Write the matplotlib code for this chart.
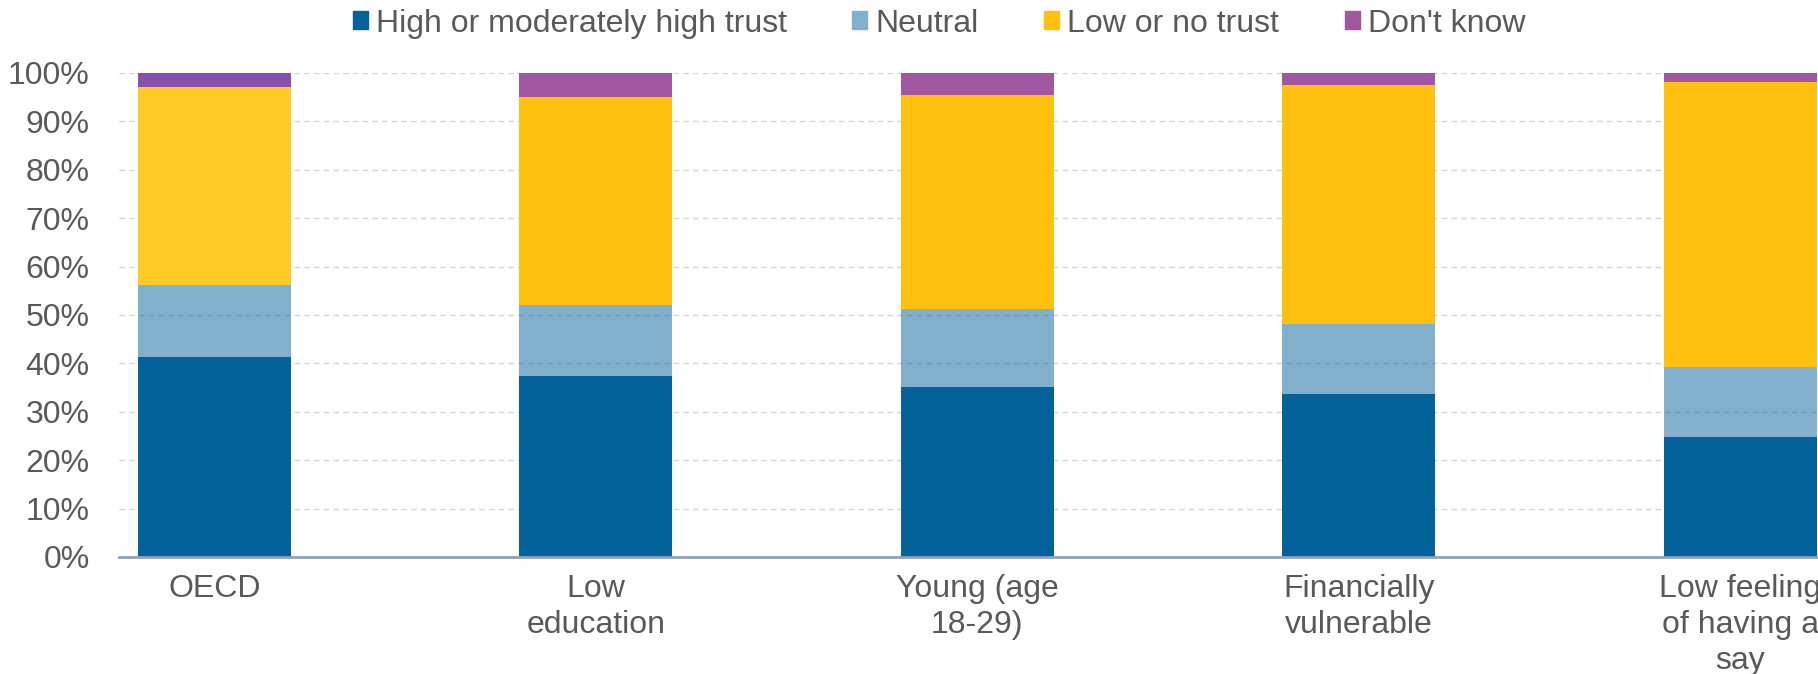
import numpy as np
import matplotlib
matplotlib.use("Agg")
import matplotlib.pyplot as plt
from matplotlib.patches import Patch

# data (shares of respondents, %)
categories = ["OECD", "Low\neducation", "Young (age\n18-29)", "Financially\nvulnerable",
              "Low feeling\nof having a\nsay"]
high_trust = [41.3, 37.4, 35.1, 33.6, 24.8]
neutral = [14.8, 14.7, 16.1, 14.6, 14.4]
low_trust = [41.1, 42.9, 44.2, 49.4, 59.0]
dont_know = [2.8, 5.0, 4.6, 2.4, 1.8]
series_names = ["High or moderately high trust", "Neutral", "Low or no trust", "Don't know"]

plt.rcParams['font.family'] = ['Liberation Sans', 'DejaVu Sans']
text_col = '#595959'
blue = '#036299'
yellow = ['#FFC926', '#FFC00F', '#FFC00F', '#FFC00F', '#FFC00F']
purple = ['#8650AC', '#A156A0', '#A156A0', '#A156A0', '#A156A0']
fs = 23

fig = plt.figure(figsize=(18.18, 6.74), dpi=100)
ax = fig.add_axes([119 / 1818, 117 / 674, 1 - 119 / 1818, 484 / 674])

x = np.arange(len(categories))
w = 0.401
high = np.array(high_trust)
neu = np.array(neutral)
low = np.array(low_trust)
dk = np.array(dont_know)

ax.bar(x, high, w, color=blue, zorder=2)
ax.bar(x, neu, w, bottom=high, color=blue, alpha=0.5, zorder=2)
ax.bar(x, low, w, bottom=high + neu, color=yellow, zorder=2)
ax.bar(x, dk, w, bottom=high + neu + low, color=purple, zorder=2)

ax.set_xlim(-0.2504, 4.204)
ax.set_ylim(0, 100)
ax.set_yticks(np.arange(0, 101, 10))
ax.set_yticklabels([f"{v}%" for v in range(0, 101, 10)])
ax.set_xticks(x)
ax.set_xticklabels(categories, linespacing=1.27)
ax.tick_params(axis='both', length=0, labelsize=fs, colors=text_col)
ax.tick_params(axis='y', pad=21)
ax.tick_params(axis='x', pad=12)

ax.set_axisbelow(True)
ax.yaxis.grid(True, color='#D5D5D5', linestyle=(0, (4, 3)), linewidth=1, zorder=0)
for s in ['top', 'right', 'left']:
    ax.spines[s].set_visible(False)
ax.spines['bottom'].set_color('#8EA2B8')
ax.spines['bottom'].set_linewidth(2)
ax.spines['bottom'].set_zorder(3)

handles = [Patch(color=blue), Patch(color='#81B0CC'), Patch(color='#FFC00F'), Patch(color='#A156A0')]
fig.legend(handles, series_names, loc='center', bbox_to_anchor=(0.5165, 0.965), ncol=4,
           frameon=False, fontsize=fs, labelcolor=text_col, handlelength=0.47,
           handleheight=0.47, handletextpad=0.25, columnspacing=2.05)

fig.savefig("out.png", dpi=100)
